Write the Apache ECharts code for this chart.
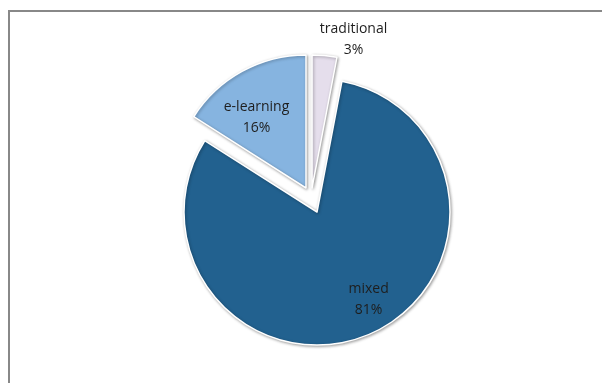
<!DOCTYPE html>
<html>
<head>
<meta charset="utf-8">
<script src="https://cdn.jsdelivr.net/npm/echarts@6/dist/echarts.min.js"></script>
<style>
  html, body { margin: 0; padding: 0; background: #fff; }
  #chart { width: 602px; height: 383px; }
</style>
</head>
<body>
<div id="chart"></div>
<script>
// Learning mode shares (percent)
const categories = ['traditional', 'mixed', 'e-learning'];
const shares = [3, 81, 16];
const colors = ['#E5DEEC', '#22618F', '#86B4E0'];

// Each slice is drawn by its own pie layer so it can be pulled out from the centre
// by its own amount; the other slices of that layer stay invisible.
const sliceCenters = [[312, 188], [317, 212], [306, 188]];
const labelShift = [[35, -79], [24, 24], [-16, -10]];

const series = categories.map((owner, k) => ({
  type: 'pie',
  center: sliceCenters[k],
  radius: 133,
  startAngle: 90,
  clockwise: true,
  silent: true,
  animation: false,
  percentPrecision: 0,
  label: { show: false },
  labelLine: { show: false },
  labelLayout: (p) => ({ dx: labelShift[k][0], dy: labelShift[k][1] }),
  data: categories.map((name, i) => {
    const mine = i === k;
    return {
      name: name,
      value: shares[i],
      itemStyle: mine ? {
        color: colors[i],
        borderColor: '#ffffff',
        borderWidth: 1.5,
        shadowBlur: 3,
        shadowColor: 'rgba(0,0,0,0.35)',
        shadowOffsetX: 1,
        shadowOffsetY: 1
      } : { color: 'rgba(0,0,0,0)', borderWidth: 0 },
      label: mine ? {
        show: true,
        position: 'inside',
        formatter: '{b}\n{d}%',
        color: '#1e1e1e',
        fontFamily: '"Open Sans", sans-serif',
        fontSize: 14,
        lineHeight: 21,
        align: 'center'
      } : { show: false }
    };
  })
}));

const chart = echarts.init(document.getElementById('chart'), null, { renderer: 'canvas' });
chart.setOption({
  backgroundColor: '#ffffff',
  animation: false,
  graphic: [{
    type: 'rect',
    shape: { x: 9, y: 11, width: 700, height: 500 },
    style: { fill: 'none', stroke: '#888888', lineWidth: 2 },
    silent: true,
    z: -1
  }],
  series: series
});
</script>
</body>
</html>
